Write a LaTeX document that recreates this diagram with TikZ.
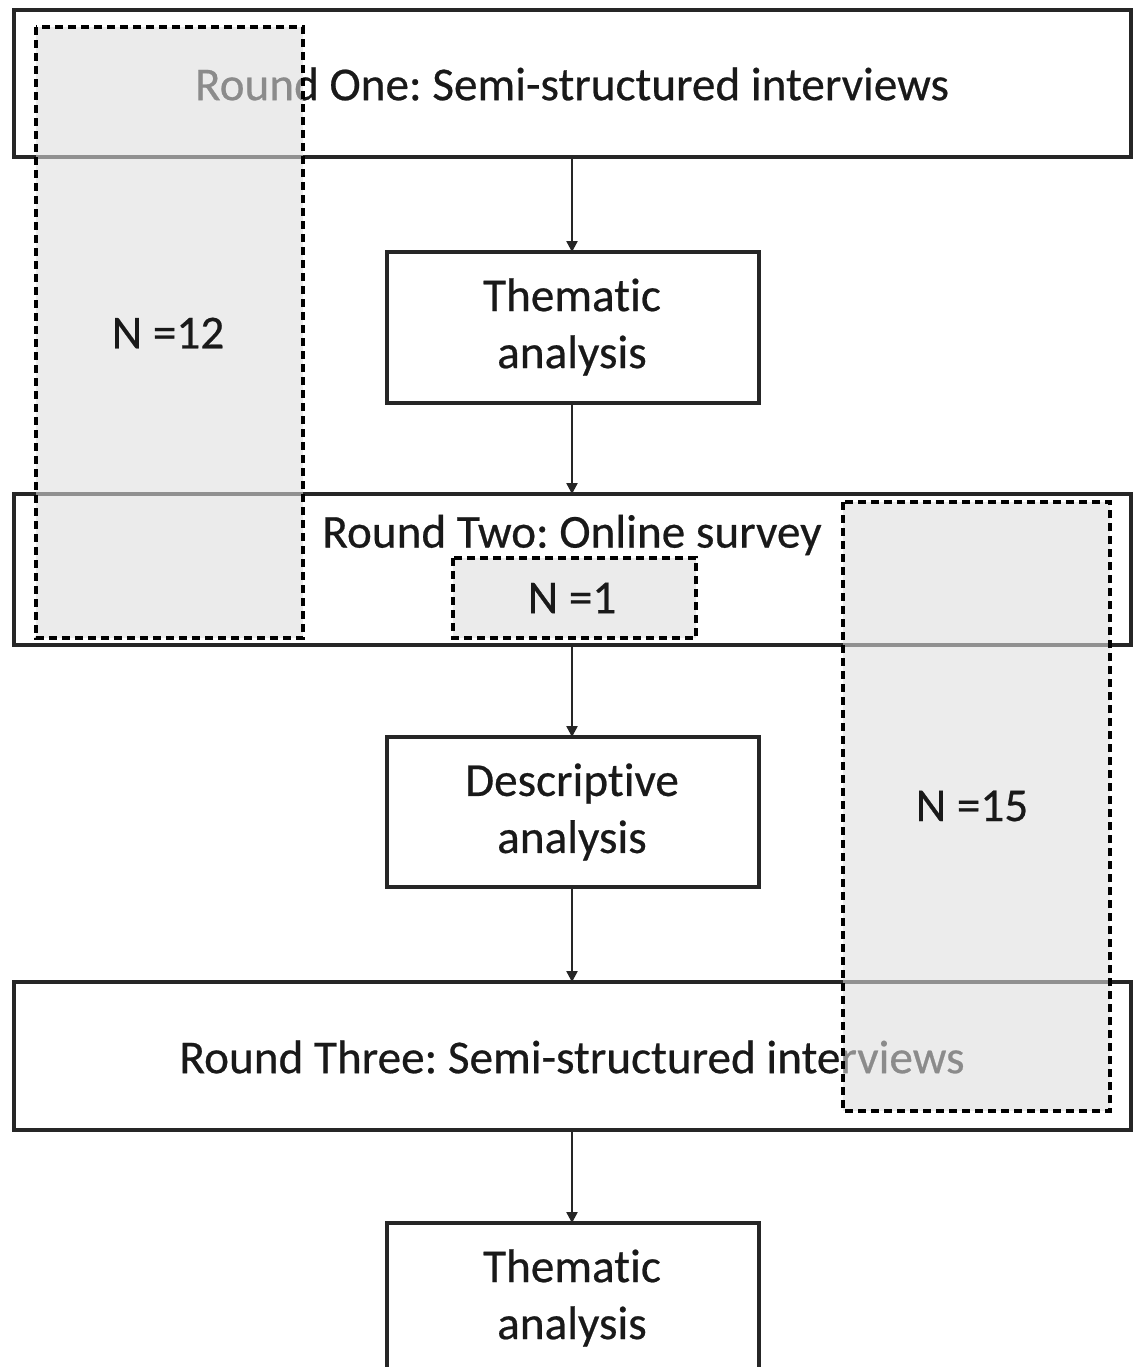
\documentclass[tikz,border=0pt]{standalone}
\usepackage{fontspec}
\setmainfont[Ligatures=NoCommon,FakeBold=0.5]{Carlito}
\usetikzlibrary{arrows.meta}
\begin{document}
\frenchspacing
\begin{tikzpicture}[x=0.5pt,y=-0.5pt,
  box/.style={draw=black!85,line width=1.6pt,fill=white,inner sep=0pt},
  lbl/.style={font=\fontsize{23.6}{28.5}\selectfont,text=black!90,align=center,inner sep=0pt},
  overlay/.style={draw=black,line width=1.7pt,dash pattern=on 4pt off 2.5pt,fill=black!13,fill opacity=0.58},
  conn/.style={draw=black!85,line width=1.2pt,-{Triangle[length=5.5pt,width=5.5pt]}}]
\useasboundingbox (0,0) rectangle (1137,1367);
\clip (0,0) rectangle (1137,1367);
% boxes
\draw[box] (14,10) rectangle (1131,157);
\node[lbl] (r1) at (572,84) {Round One: Semi-structured interviews};
\coordinate (r1b) at (572,157);
\draw[box] (387,252) rectangle (759,403);
\node[lbl] (t1) at (572,327) {Thematic\\analysis};
\coordinate (t1t) at (572,252); \coordinate (t1b) at (572,403);
\draw[box] (14,494) rectangle (1131,645);
\node[lbl] (r2) at (572,535) {Round Two: Online survey};
\coordinate (r2t) at (572,494); \coordinate (r2b) at (572,645);
\draw[box] (387,737) rectangle (759,887);
\node[lbl] (d1) at (572,812) {Descriptive\\analysis};
\coordinate (d1t) at (572,737); \coordinate (d1b) at (572,887);
\draw[box] (14,982) rectangle (1131,1130);
\node[lbl] (r3) at (572,1057) {Round Three: Semi-structured interviews};
\coordinate (r3t) at (572,982); \coordinate (r3b) at (572,1130);
\draw[box] (387,1223) rectangle (759,1400);
\node[lbl] (t2) at (572,1298) {Thematic\\analysis};
\coordinate (t2t) at (572,1223);
% connectors
\draw[conn] (r1b) -- (t1t);
\draw[conn] (t1b) -- (r2t);
\draw[conn] (r2b) -- (d1t);
\draw[conn] (d1b) -- (r3t);
\draw[conn] (r3b) -- (t2t);
% overlays
\draw[overlay] (36,27) rectangle (303,638);
\node[lbl] (n12) at (168,333) {N =12};
\draw[overlay] (453,558) rectangle (696,638);
\node[lbl] (n1) at (572,598) {N =1};
\draw[overlay] (843,502) rectangle (1110,1111);
\node[lbl] (n15) at (972,806) {N =15};
\end{tikzpicture}
\end{document}
